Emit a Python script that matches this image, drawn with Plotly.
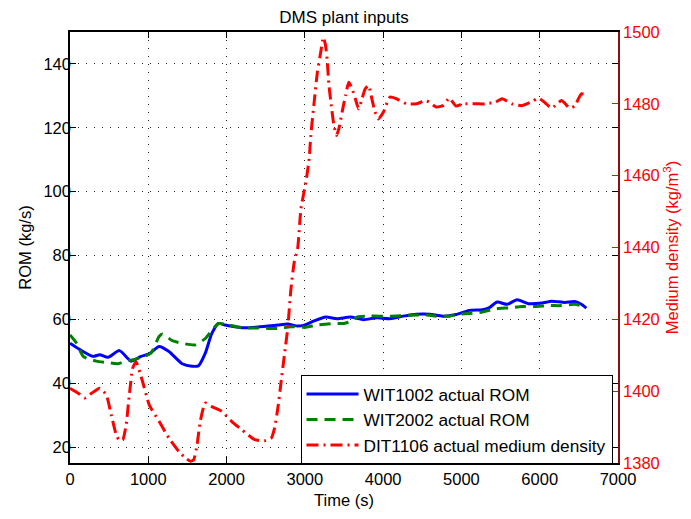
import plotly.graph_objects as go

# WIT1002 belt weigher (kg/s)
time_wit1002 = [0, 127, 296, 380, 485, 632, 781, 907, 1012, 1138, 1264, 1433, 1559, 1643,
                1728, 1812, 1897, 1980, 2192, 2402, 2655, 2781, 2908, 2992, 3119, 3265,
                3414, 3581, 3750, 3919, 4087, 4256, 4425, 4593, 4762, 4931, 5098, 5267,
                5352, 5457, 5584, 5710, 5857, 6027, 6153, 6320, 6447, 6532, 6595]
rom_wit1002 = [52.5, 50.5, 48.4, 48.9, 48.1, 50.2, 46.9, 48.4, 49.2, 51.5, 49.9, 46.1, 45.3, 45.5,
               49.4, 55.6, 58.7, 58.2, 57.4, 57.6, 58.2, 58.5, 57.9, 58.2, 59.5, 60.7,
               60.2, 60.7, 59.9, 60.5, 60.2, 61.0, 61.6, 61.6, 61.0, 61.5, 62.8, 63.0,
               63.6, 65.4, 64.7, 66.1, 64.9, 65.1, 65.7, 65.3, 65.6, 64.7, 63.5]

# WIT2002 belt weigher (kg/s)
time_wit2002 = [0, 85, 169, 337, 463, 611, 717, 822, 927, 1033, 1138, 1181, 1307, 1433, 1602,
                1728, 1812, 1897, 1980, 2192, 2402, 2655, 2823, 2992, 3160, 3371, 3498,
                3603, 3666, 3835, 4087, 4340, 4593, 4677, 4846, 4972, 5098, 5267, 5436,
                5604, 5773, 5942, 6110, 6278, 6447, 6532]
rom_wit2002 = [55.1, 52.5, 48.4, 46.9, 46.5, 46.1, 46.9, 47.4, 48.2, 49.4, 54.6, 55.4, 53.3, 52.5, 52.0,
               54.0, 56.6, 58.7, 58.5, 57.4, 57.3, 57.1, 57.7, 57.5, 58.2, 58.7, 58.7,
               59.5, 60.7, 61.0, 61.0, 61.3, 61.3, 61.0, 61.0, 61.6, 61.8, 62.3, 63.3,
               63.6, 64.0, 64.0, 64.3, 64.3, 64.7, 64.3]

# DIT1106 medium density (kg/m^3)
time_dit1106 = [0, 106, 190, 275, 380, 463, 527, 590, 632, 675, 717, 758, 801, 843, 927, 1012,
                1138, 1264, 1391, 1475, 1538, 1580, 1623, 1664, 1728, 1812, 1938, 2064,
                2192, 2360, 2486, 2570, 2613, 2655, 2697, 2739, 2781, 2823, 2865, 2908,
                2950, 3013, 3055, 3076, 3119, 3160, 3203, 3236, 3265, 3287, 3308, 3338,
                3371, 3405, 3435, 3476, 3519, 3561, 3603, 3645, 3687, 3730, 3771, 3814,
                3856, 3897, 3940, 4004, 4087, 4172, 4298, 4425, 4551, 4677, 4762, 4846,
                4931, 5015, 5183, 5310, 5436, 5521, 5647, 5773, 5899, 5983, 6068, 6153,
                6279, 6384, 6447, 6532, 6595]
density_dit1106 = [1400.8, 1399.4, 1398.1, 1399.4, 1400.8, 1399.0, 1393.4, 1387.9, 1386.2, 1386.5,
                   1390.6, 1399.0, 1406.4, 1408.2, 1402.7, 1396.2, 1391.6, 1386.9, 1383.2, 1381.4,
                   1380.5, 1380.9, 1385.1, 1391.6, 1396.7, 1395.7, 1394.4, 1391.6, 1389.3, 1386.5,
                   1386.2, 1386.9, 1389.7, 1395.3, 1402.7, 1410.1, 1417.5, 1428.6, 1436.0, 1439.7,
                   1450.8, 1458.2, 1464.7, 1471.2, 1480.5, 1488.8, 1494.4, 1498.5, 1496.2, 1491.6,
                   1485.1, 1479.5, 1474.0, 1471.2, 1473.1, 1477.7, 1482.3, 1486.0, 1484.2, 1481.4,
                   1478.6, 1481.4, 1484.2, 1485.1, 1481.4, 1477.7, 1475.8, 1477.7, 1481.9, 1481.4,
                   1480.0, 1480.0, 1480.9, 1479.1, 1479.5, 1481.6, 1479.4, 1480.0, 1480.0, 1480.0,
                   1480.5, 1481.4, 1480.0, 1479.5, 1480.6, 1481.6, 1480.3, 1478.8, 1480.9, 1478.8,
                   1479.4, 1482.8, 1482.5]

x_ticks = [0, 1000, 2000, 3000, 4000, 5000, 6000, 7000]
rom_ticks = [20, 40, 60, 80, 100, 120, 140]
density_ticks = [1380, 1400, 1420, 1440, 1460, 1480, 1500]

FONT = "Liberation Sans, Arial, Helvetica, sans-serif"
GRID_DASH = "1px,7px"

fig = go.Figure()

fig.add_trace(go.Scatter(
    x=time_wit1002, y=rom_wit1002, mode="lines", name="WIT1002 actual ROM",
    line=dict(color="#0000ff", width=3, shape="spline", smoothing=0.6),
))
fig.add_trace(go.Scatter(
    x=time_wit2002, y=rom_wit2002, mode="lines", name="WIT2002 actual ROM",
    line=dict(color="#008000", width=3, dash="11px,7px", shape="spline", smoothing=0.6),
))
fig.add_trace(go.Scatter(
    x=time_dit1106, y=density_dit1106, mode="lines", name="DIT1106 actual medium density",
    yaxis="y2",
    line=dict(color="#ff0000", width=3, dash="12px,5px,2px,5px", shape="spline", smoothing=0.5),
))

fig.update_layout(
    width=691, height=519,
    margin=dict(l=70, r=67, t=32, b=52),
    paper_bgcolor="white", plot_bgcolor="white",
    font=dict(family=FONT, size=16.5, color="black"),
    title=dict(text="DMS plant inputs", x=0.5, xref="paper", xanchor="center",
               y=1 - 17 / 519, yref="container", yanchor="middle",
               font=dict(size=17, color="black")),
    xaxis=dict(
        range=[0, 7000], tickvals=x_ticks, ticks="inside", ticklen=6, tickcolor="black",
        showline=True, linecolor="black", linewidth=1.5, mirror="ticks",
        showgrid=True, gridcolor="#222222", gridwidth=1, griddash=GRID_DASH,
        zeroline=False, tickfont=dict(size=16.5, color="black"),
        title=dict(text="Time (s)", standoff=8, font=dict(size=16.5)),
    ),
    yaxis=dict(
        range=[15, 150], tickvals=rom_ticks, ticks="inside", ticklen=6, tickcolor="black",
        showline=True, linecolor="black", linewidth=1.5, mirror="ticks",
        showgrid=True, gridcolor="#222222", gridwidth=1, griddash=GRID_DASH,
        zeroline=False, tickfont=dict(size=16.5, color="black"), ticklabelstandoff=-6,
        title=dict(text="ROM (kg/s)", standoff=8, font=dict(size=16.5)),
    ),
    yaxis2=dict(
        overlaying="y", side="right", range=[1380, 1500], tickvals=density_ticks,
        ticks="inside", ticklen=6, tickcolor="#ff0000",
        showline=True, linecolor="#8b1010", linewidth=1.5,
        showgrid=False, zeroline=False, tickfont=dict(size=16.5, color="#ff0000"),
        title=dict(text="Medium density (kg/m<sup>3</sup>)", standoff=8,
                   font=dict(size=16.5, color="#ff0000")),
    ),
    legend=dict(
        x=0.99, xanchor="right", y=-0.003, yanchor="bottom",
        bgcolor="white", bordercolor="black", borderwidth=1,
        font=dict(size=17.3, color="black"), itemwidth=52,
    ),
    showlegend=True,
)

fig.write_html("out.html")
